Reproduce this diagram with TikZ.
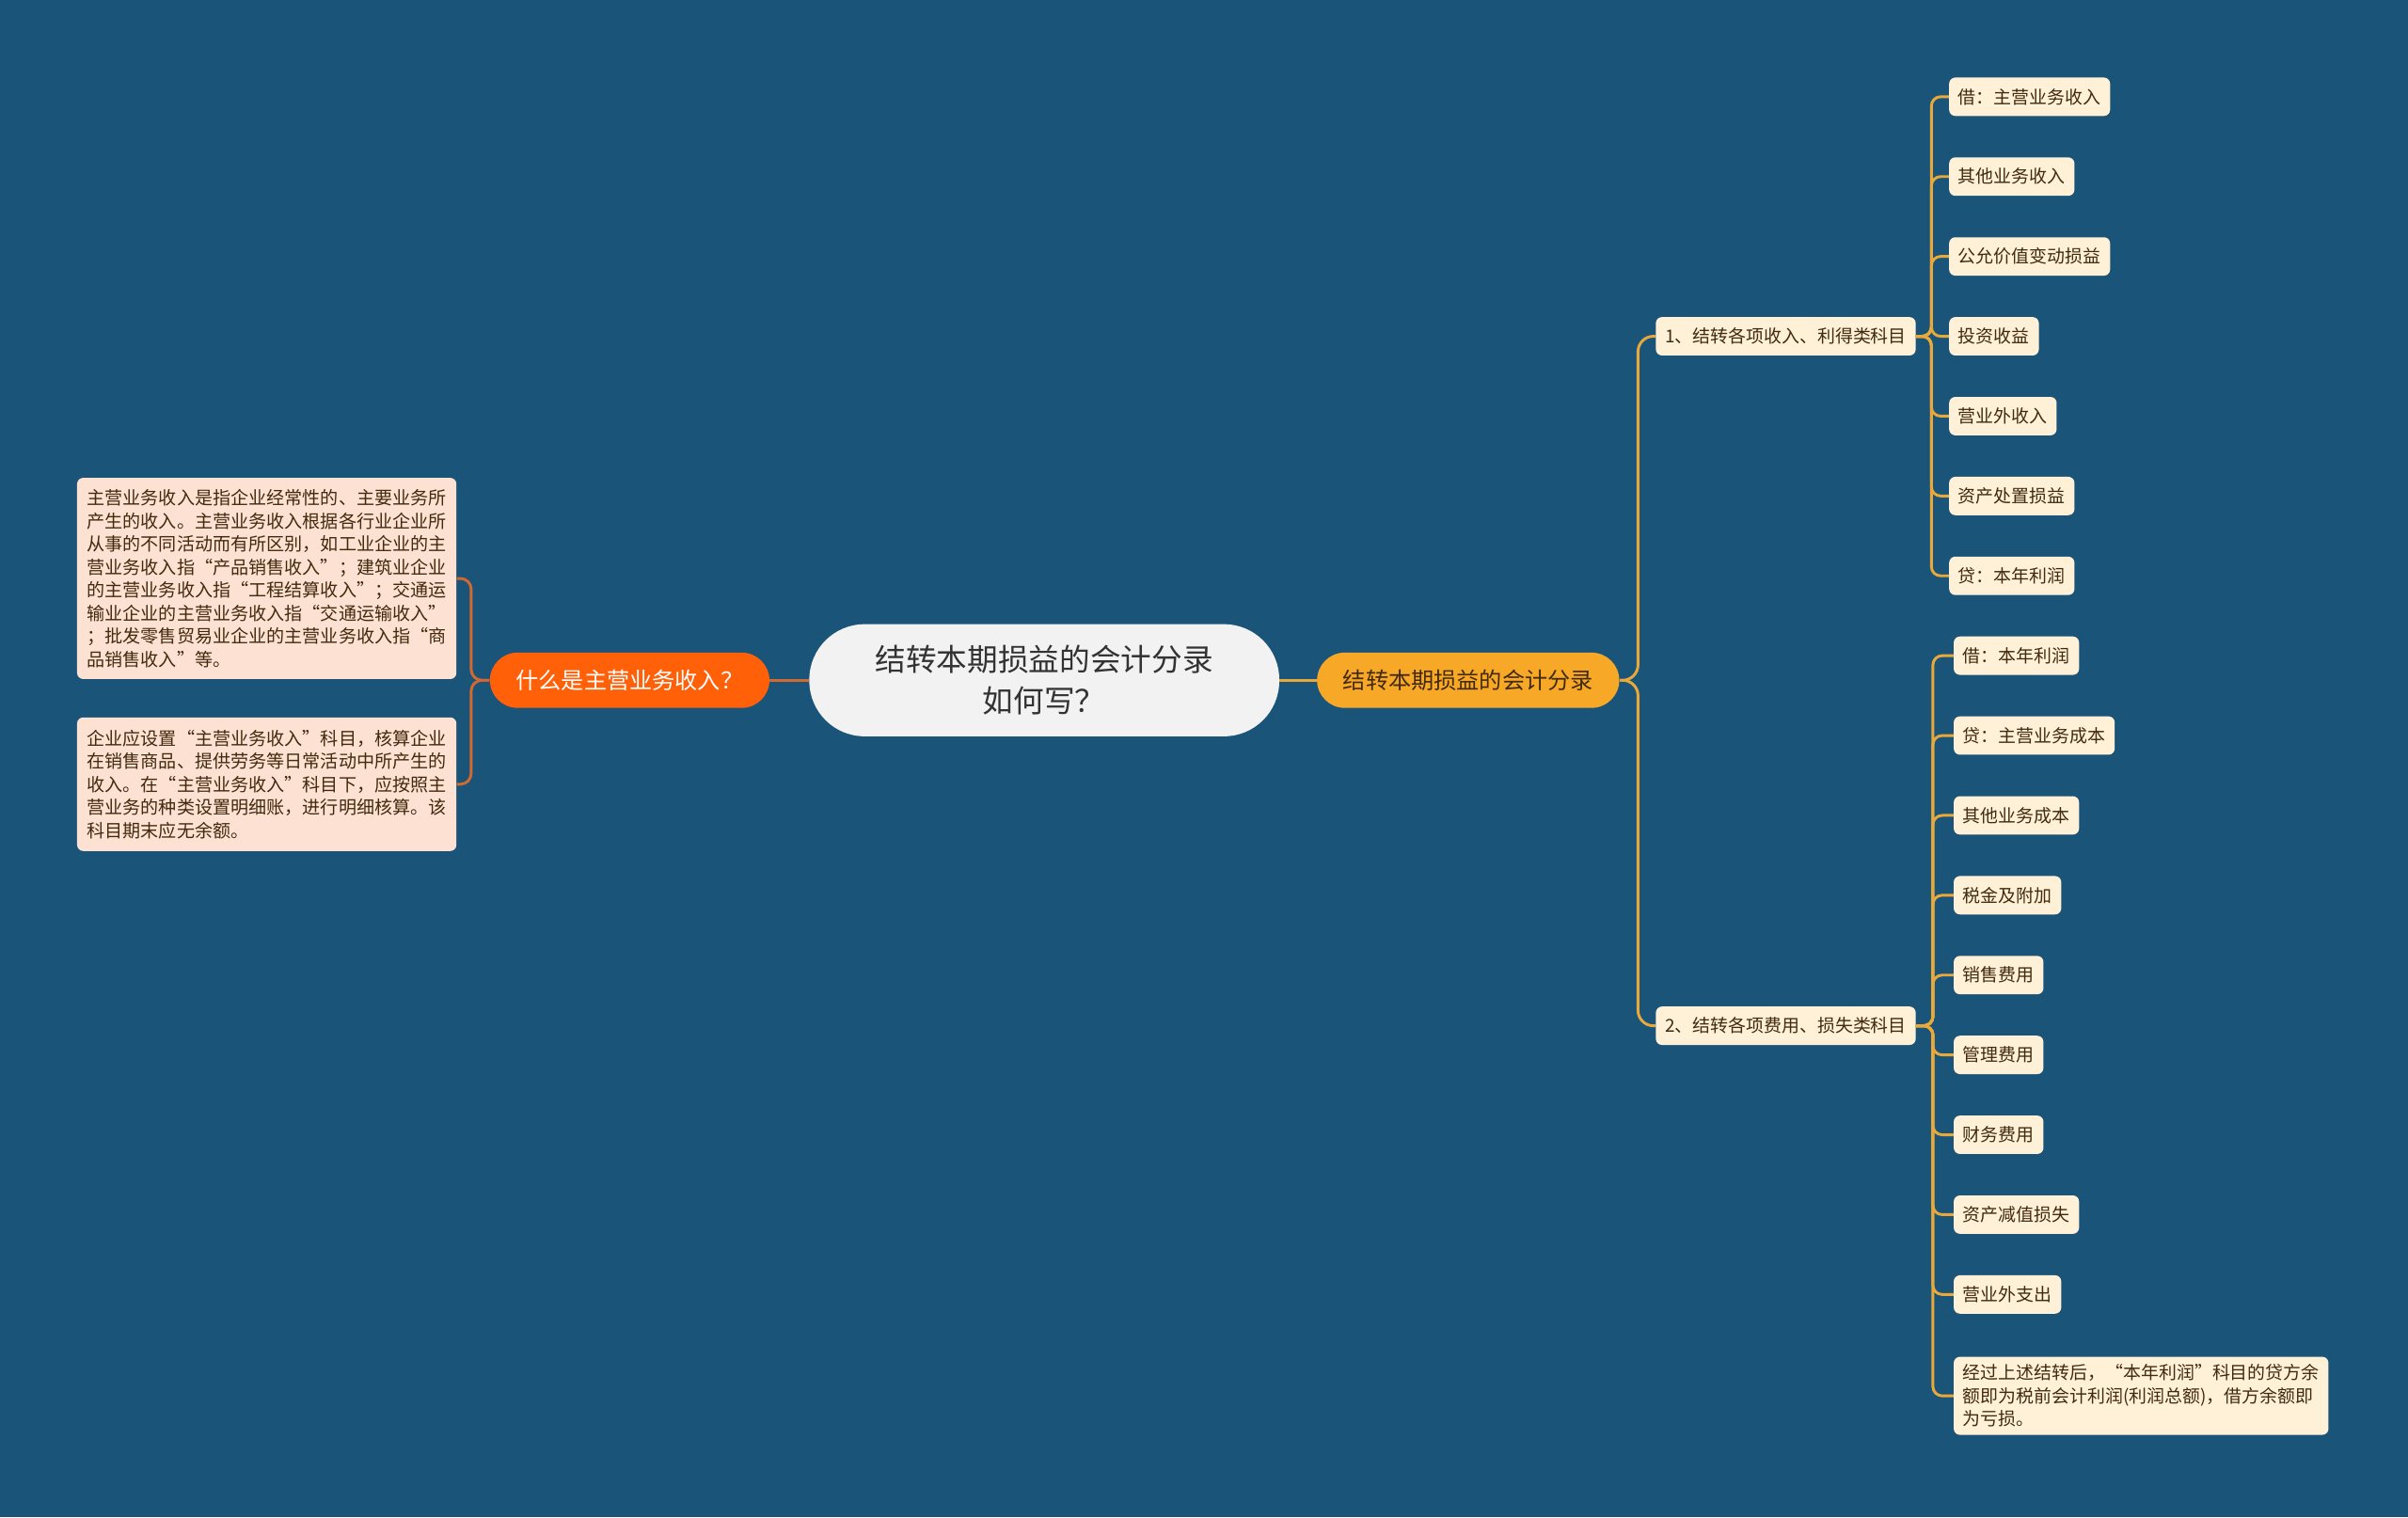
\documentclass[tikz,border=0pt]{standalone}
\usepackage{fontspec}
\newfontfamily\cjk{Noto Sans CJK SC}
\definecolor{bgblue}{RGB}{27,84,121}
\definecolor{rootgray}{RGB}{242,242,242}
\definecolor{hotorange}{RGB}{255,96,8}
\definecolor{amber}{RGB}{247,168,38}
\definecolor{peach}{RGB}{253,226,211}
\definecolor{cream}{RGB}{255,241,216}
\definecolor{ink}{RGB}{66,42,14}
\definecolor{rustline}{RGB}{208,106,48}
\definecolor{goldline}{RGB}{232,169,58}
\tikzset{
  rootbox/.style={fill=rootgray, rounded corners=36pt, minimum width=306pt, minimum height=73pt,
    align=center, text=black!80, font=\cjk\fontsize{20}{27}\selectfont},
  mainbox/.style={rounded corners=18pt, minimum height=36pt, inner xsep=17pt,
    font=\cjk\fontsize{14.8}{18}\selectfont},
  leaf/.style={fill=cream, rounded corners=4pt, minimum height=25pt, inner xsep=6pt, inner ysep=5pt,
    text=ink, font=\cjk\fontsize{11.6}{15}\selectfont},
  note/.style={fill=peach, rounded corners=4pt, minimum width=247pt, inner xsep=6pt, align=left,
    text=ink, font=\cjk\fontsize{11.7}{15}\selectfont},
  rustlink/.style={draw=rustline, line width=1.8pt},
  goldlink/.style={draw=goldline, line width=1.8pt},
}
\begin{document}
\begin{tikzpicture}[x=1pt, y=-1pt]
  \fill[bgblue] (0,0) rectangle (1568,988);
  \useasboundingbox (0,0) rectangle (1568,988);

  % centre
  \node[rootbox] (root) at (680,443) {结转本期损益的会计分录\\如何写？};

  % left branch
  \node[mainbox, fill=hotorange, text=white] (what) at (410,443) {什么是主营业务收入？};
  \node[note, anchor=north west, minimum height=131pt] (def) at (50,311)
    {主营业务收入是指企业经常性的、主要业务所\\产生的收入。主营业务收入根据各行业企业所\\从事的不同活动而有所区别，如工业企业的主\\营业务收入指“产品销售收入”；建筑业企业\\的主营业务收入指“工程结算收入”；交通运\\输业企业的主营业务收入指“交通运输收入”\\；批发零售贸易业企业的主营业务收入指“商\\品销售收入”等。};
  \node[note, anchor=north west, minimum height=87pt] (acct) at (50,467)
    {企业应设置“主营业务收入”科目，核算企业\\在销售商品、提供劳务等日常活动中所产生的\\收入。在“主营业务收入”科目下，应按照主\\营业务的种类设置明细账，进行明细核算。该\\科目期末应无余额。};
  \draw[rustlink] (root.west) -- (what.east);
  \draw[rustlink, rounded corners=7pt] (what.west) -- ++(-12,0) |- (def.east);
  \draw[rustlink, rounded corners=7pt] (what.west) -- ++(-12,0) |- (acct.east);

  % right branch
  \node[mainbox, fill=amber, text=ink] (entry) at (956,443) {结转本期损益的会计分录};
  \node[leaf, anchor=west] (income) at (1078,219) {1、结转各项收入、利得类科目};
  \node[leaf, anchor=west] (expense) at (1078,668) {2、结转各项费用、损失类科目};
  \draw[goldlink] (root.east) -- (entry.west);
  \draw[goldlink, rounded corners=10pt] (entry.east) -- ++(12,0) |- (income.west);
  \draw[goldlink, rounded corners=10pt] (entry.east) -- ++(12,0) |- (expense.west);

  % income items
  \foreach \t [count=\i] in {借：主营业务收入,其他业务收入,公允价值变动损益,投资收益,营业外收入,资产处置损益,贷：本年利润}{
    \node[leaf, anchor=west] (in\i) at (1269,{11+52*\i}) {\t};
    \draw[goldlink, rounded corners=6pt] (income.east) -- ++(10,0) |- (in\i.west);
  }

  % expense items
  \foreach \t [count=\i] in {借：本年利润,贷：主营业务成本,其他业务成本,税金及附加,销售费用,管理费用,财务费用,资产减值损失,营业外支出}{
    \node[leaf, anchor=west] (ex\i) at (1272,{375+52*\i}) {\t};
    \draw[goldlink, rounded corners=6pt] (expense.east) -- ++(11,0) |- (ex\i.west);
  }
  \node[leaf, anchor=west, align=left] (result) at (1272,909)
    {经过上述结转后，“本年利润”科目的贷方余\\额即为税前会计利润(利润总额)，借方余额即\\为亏损。};
  \draw[goldlink, rounded corners=6pt] (expense.east) -- ++(11,0) |- (result.west);
\end{tikzpicture}
\end{document}
